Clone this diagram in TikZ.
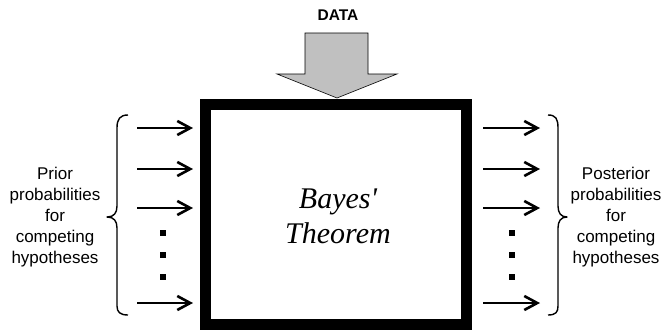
\documentclass[tikz,border=0pt]{standalone}
\usepackage{fontspec}
\setmainfont{Liberation Serif}
\setsansfont{Liberation Sans}
\usetikzlibrary{arrows.meta}
\definecolor{datagray}{RGB}{192,192,192}
\begin{document}
\begin{tikzpicture}[x=1pt,y=-1pt,
  flow/.style={line width=2.8pt,-{Straight Barb[length=13pt,width=14pt,line width=2.6pt]}},
  dotmark/.style={fill=black,minimum size=6pt,inner sep=0pt,draw=none,rectangle},
  sidelabel/.style={font=\sffamily\fontsize{17}{21}\selectfont,align=center},
  brace/.style={line width=1.4pt,line join=round}]
\useasboundingbox (0,0) rectangle (670,330);

% central box
\node[draw,line width=11pt,minimum width=261pt,minimum height=220pt,inner sep=0pt]
  (bayes) at (336,214.5) {};
\node[font=\itshape\fontsize{30}{35}\selectfont,align=center] (title) at (338,216)
  {Bayes\textquotesingle\\Theorem};

% data input arrow
\node[font=\sffamily\bfseries\fontsize{15.5}{18}\selectfont] (data) at (338,15) {DATA};
\coordinate (tip) at (337,98);
\draw[fill=datagray,line width=0.6pt]
  (305,33) -- (368,33) -- (368,74) -- (397,74) -- (tip) -- (277,74) -- (305,74) -- cycle;

% incoming and outgoing arrows
\foreach \i/\y in {1/128,2/169,3/208,4/303}{
  \coordinate (in\i) at (137,\y);
  \coordinate (out\i) at (540,\y);
  \draw[flow] (in\i) -- (in\i -| 193,0);
  \draw[flow] (in\i -| 483,0) -- (out\i);
}
\foreach \j/\y in {1/233,2/255,3/277}{
  \node[dotmark] (ld\j) at (163,\y) {};
  \node[dotmark] (rd\j) at (512,\y) {};
}

% braces
\draw[brace] (128,115) .. controls (120,115) and (117,119) .. (117,128)
  -- (117,206) .. controls (117,213) and (114,217) .. (107,217)
  .. controls (114,217) and (117,221) .. (117,228)
  -- (117,306) .. controls (117,312) and (120,315) .. (128,315);
\draw[brace] (548,115) .. controls (556,115) and (558,119) .. (558,128)
  -- (558,206) .. controls (558,213) and (561,217) .. (567,217)
  .. controls (561,217) and (558,221) .. (558,228)
  -- (558,306) .. controls (558,312) and (556,315) .. (548,315);

% side labels
\node[sidelabel] (prior) at (55,217)
  {Prior\\probabilities\\for\\competing\\hypotheses};
\node[sidelabel] (post) at (616,217)
  {Posterior\\probabilities\\for\\competing\\hypotheses};
\end{tikzpicture}
\end{document}
